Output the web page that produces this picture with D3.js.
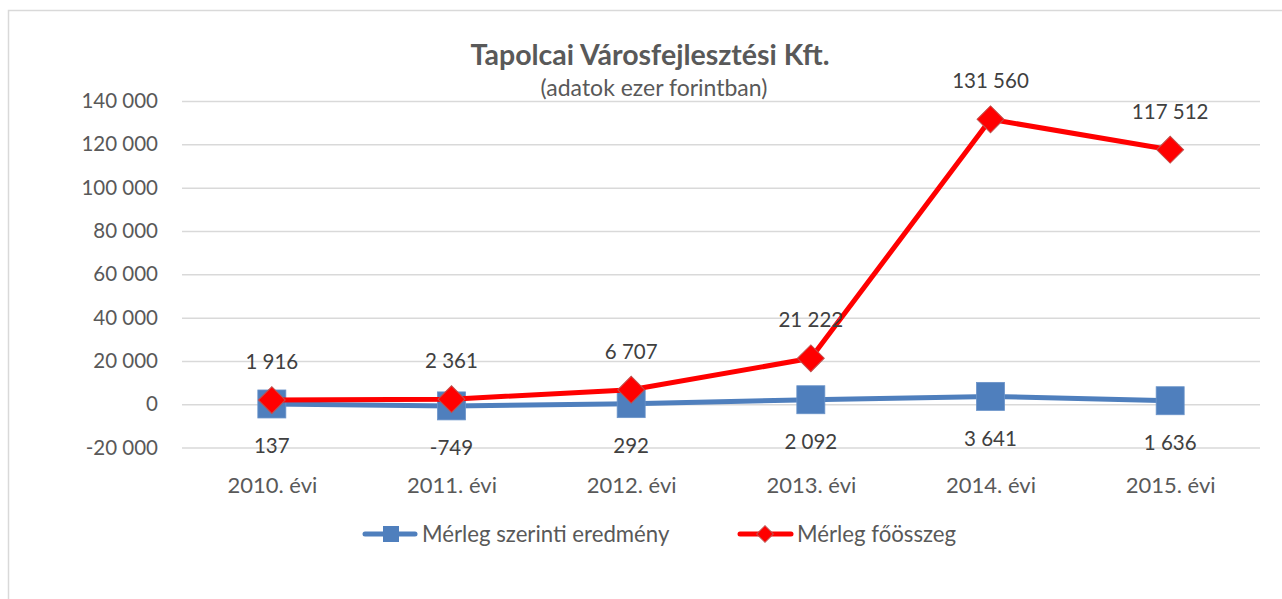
<!DOCTYPE html>
<html><head><meta charset="utf-8">
<script src="https://cdn.jsdelivr.net/npm/d3@7"></script>
<style>body{margin:0;background:#fff}svg{display:block}text{font-family:Lato,"Open Sans",sans-serif}</style>
</head><body>
<svg id="c" width="1282" height="599"></svg>
<script>
const categories = ["2010. évi","2011. évi","2012. évi","2013. évi","2014. évi","2015. évi"];
const eredmeny = [137, -749, 292, 2092, 3641, 1636];
const foosszeg = [1916, 2361, 6707, 21222, 131560, 117512];
const yTicks = [-20000, 0, 20000, 40000, 60000, 80000, 100000, 120000, 140000];
const seriesNames = ["Mérleg szerinti eredmény", "Mérleg főösszeg"];

const svg = d3.select("#c");
const fmt = v => d3.format(",")(v).replace(/,/g, " ").replace("−","-");
svg.append("rect").attr("x",8.5).attr("y",10.5).attr("width",1300).attr("height",620)
  .attr("fill","#fff").attr("stroke","#d9d9d9").attr("stroke-width",1.5);

const x = d3.scalePoint().domain(categories).range([182,1260]).padding(0.5);
const y = d3.scaleLinear().domain([-20000,140000]).range([447.6,101]);

const yAxis = svg.append("g").attr("transform","translate(182,0)")
  .call(d3.axisLeft(y).tickValues(yTicks).tickSize(-1078).tickFormat(fmt).tickPadding(24));
yAxis.select(".domain").remove();
yAxis.selectAll("line").attr("stroke","#d9d9d9").attr("stroke-width",1.5);
yAxis.selectAll("text").attr("fill","#595959").style("font-size","20.5px").style("font-family","Lato");

const xAxis = svg.append("g").attr("transform","translate(0,447.6)")
  .call(d3.axisBottom(x).tickSize(0).tickPadding(30));
xAxis.select(".domain").remove();
xAxis.selectAll("text").attr("fill","#595959").style("font-size","22px").style("font-family","Lato");

const line = d3.line().x((d,i)=>x(categories[i])).y(d=>y(d));
svg.append("path").datum(eredmeny).attr("d",line).attr("fill","none").attr("stroke","#4f7fbd").attr("stroke-width",5).attr("stroke-linejoin","round");
svg.selectAll(".sq").data(eredmeny).join("rect")
  .attr("x",(d,i)=>x(categories[i])-14).attr("y",d=>y(d)-14).attr("width",28).attr("height",28)
  .attr("fill","#4f7fbd").attr("stroke","#6a93c9").attr("stroke-width",0.8);

svg.append("path").datum(foosszeg).attr("d",line).attr("fill","none").attr("stroke","#ff0000").attr("stroke-width",5).attr("stroke-linejoin","round");
svg.selectAll(".dm").data(foosszeg).join("path")
  .attr("d", d3.symbol().type(d3.symbolSquare).size(360))
  .attr("transform",(d,i)=>`translate(${x(categories[i])},${y(d)}) rotate(45)`)
  .attr("fill","#ff0000").attr("stroke","#c0504d").attr("stroke-width",1);

svg.selectAll(".lr").data(foosszeg).join("text")
  .attr("x",(d,i)=>x(categories[i])).attr("y",d=>y(d)-38).attr("dy","0.35em")
  .attr("text-anchor","middle").attr("fill","#404040").style("font-size","20.5px").text(fmt);
svg.selectAll(".lb").data(eredmeny).join("text")
  .attr("x",(d,i)=>x(categories[i])).attr("y",d=>y(d)+42).attr("dy","0.35em")
  .attr("text-anchor","middle").attr("fill","#404040").style("font-size","20.5px").text(fmt);

svg.append("text").attr("x",650).attr("y",55).attr("dy","0.35em").attr("text-anchor","middle")
  .attr("fill","#595959").style("font-size","28.5px").style("font-weight","bold").text("Tapolcai Városfejlesztési Kft.");
svg.append("text").attr("x",654).attr("y",88).attr("dy","0.35em").attr("text-anchor","middle")
  .attr("fill","#595959").style("font-size","23px").text("(adatok ezer forintban)");

// legend
const lg = svg.append("g");
lg.append("line").attr("x1",365).attr("x2",415).attr("y1",534).attr("y2",534).attr("stroke","#4f7fbd").attr("stroke-width",5).attr("stroke-linecap","round");
lg.append("rect").attr("x",383).attr("y",526).attr("width",16).attr("height",16).attr("fill","#4f7fbd");
lg.append("text").attr("x",422).attr("y",534).attr("dy","0.35em").attr("fill","#595959").style("font-size","22.2px").text(seriesNames[0]);
lg.append("line").attr("x1",740).attr("x2",791).attr("y1",534).attr("y2",534).attr("stroke","#ff0000").attr("stroke-width",5).attr("stroke-linecap","round");
lg.append("path").attr("d",d3.symbol().type(d3.symbolSquare).size(140)).attr("transform","translate(765,534) rotate(45)").attr("fill","#ff0000").attr("stroke","#c0504d");
lg.append("text").attr("x",797).attr("y",534).attr("dy","0.35em").attr("fill","#595959").style("font-size","22.2px").text(seriesNames[1]);
</script>
</body></html>
